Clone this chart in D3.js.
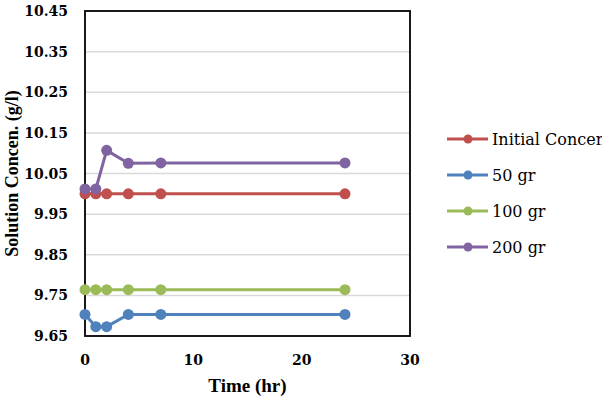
<!DOCTYPE html>
<html>
<head>
<meta charset="utf-8">
<script src="https://cdn.jsdelivr.net/npm/d3@7"></script>
<style>
  body { margin: 0; background: #fff; }
  svg { display: block; }
</style>
</head>
<body>
<script>
const width = 602;
const height = 408;

// data
const times = [0, 1, 2, 4, 7, 24];
const initialConc = [10.0, 10.0, 10.0, 10.0, 10.0, 10.0];
const conc50 = [9.703, 9.673, 9.673, 9.703, 9.703, 9.703];
const conc100 = [9.764, 9.764, 9.764, 9.764, 9.764, 9.764];
const conc200 = [10.012, 10.012, 10.107, 10.075, 10.076, 10.076];
const seriesNames = ["Initial Concen", "50 gr", "100 gr", "200 gr"];
const seriesColors = ["#C0504D", "#4F81BD", "#9BBB59", "#8064A2"];
const xTicks = [0, 10, 20, 30];
const yTicks = [9.65, 9.75, 9.85, 9.95, 10.05, 10.15, 10.25, 10.35, 10.45];

const series = [initialConc, conc50, conc100, conc200].map((vals, i) => ({
  name: seriesNames[i],
  color: seriesColors[i],
  points: vals.map((v, j) => ({ t: times[j], v: v }))
}));

const plot = { left: 85, right: 410, top: 11, bottom: 336 };

const svg = d3.select("body").append("svg")
    .attr("width", width)
    .attr("height", height);

const x = d3.scaleLinear().domain([0, 30]).range([plot.left, plot.right]);
const y = d3.scaleLinear().domain([9.65, 10.45]).range([plot.bottom, plot.top]);

// gridlines
svg.append("g")
  .selectAll("line")
  .data(yTicks.slice(1, -1))
  .join("line")
    .attr("x1", plot.left)
    .attr("x2", plot.right)
    .attr("y1", d => y(d))
    .attr("y2", d => y(d))
    .attr("stroke", "#d9d9d9")
    .attr("stroke-width", 1.5);

// y tick labels
svg.append("g")
  .selectAll("text")
  .data(yTicks)
  .join("text")
    .attr("x", 68)
    .attr("y", d => y(d) + 5)
    .attr("text-anchor", "end")
    .attr("font-family", "DejaVu Serif")
    .attr("font-weight", "bold")
    .attr("font-size", 14)
    .text(d => d.toFixed(2));

// x tick labels
svg.append("g")
  .selectAll("text")
  .data(xTicks)
  .join("text")
    .attr("x", d => x(d))
    .attr("y", 365)
    .attr("text-anchor", "middle")
    .attr("font-family", "DejaVu Serif")
    .attr("font-weight", "bold")
    .attr("font-size", 14)
    .text(d => d);

// plot border
svg.append("rect")
    .attr("x", plot.left)
    .attr("y", plot.top)
    .attr("width", plot.right - plot.left)
    .attr("height", plot.bottom - plot.top)
    .attr("fill", "none")
    .attr("stroke", "#000")
    .attr("stroke-width", 1.8);

// axis titles
svg.append("text")
    .attr("x", x(15))
    .attr("y", 392)
    .attr("text-anchor", "middle")
    .attr("font-family", "Liberation Serif")
    .attr("font-weight", "bold")
    .attr("font-size", 19)
    .text("Time (hr)");

svg.append("text")
    .attr("transform", "translate(18," + ((plot.top + plot.bottom) / 2) + ") rotate(-90)")
    .attr("text-anchor", "middle")
    .attr("font-family", "Liberation Serif")
    .attr("font-weight", "bold")
    .attr("font-size", 18)
    .text("Solution Concen. (g/l)");

// lines + markers
const line = d3.line()
    .x(d => x(d.t))
    .y(d => y(d.v));

const sg = svg.append("g")
  .selectAll("g")
  .data(series)
  .join("g");

sg.append("path")
    .attr("d", d => line(d.points))
    .attr("fill", "none")
    .attr("stroke", d => d.color)
    .attr("stroke-width", 3);

sg.selectAll("circle")
  .data(d => d.points.map(p => ({ ...p, color: d.color })))
  .join("circle")
    .attr("cx", d => x(d.t))
    .attr("cy", d => y(d.v))
    .attr("r", 5.5)
    .attr("fill", d => d.color);

// legend
const legend = svg.append("g")
  .selectAll("g")
  .data(series)
  .join("g")
    .attr("transform", (d, i) => "translate(447," + (139 + i * 36) + ")");

legend.append("line")
    .attr("x1", 0)
    .attr("x2", 41)
    .attr("stroke", d => d.color)
    .attr("stroke-width", 3);

legend.append("circle")
    .attr("cx", 21)
    .attr("r", 4.5)
    .attr("fill", d => d.color);

legend.append("text")
    .attr("x", 45)
    .attr("y", 6)
    .attr("font-family", "DejaVu Serif")
    .attr("font-size", 16)
    .attr("fill", "#000")
    .text(d => d.name);
</script>
</body>
</html>
